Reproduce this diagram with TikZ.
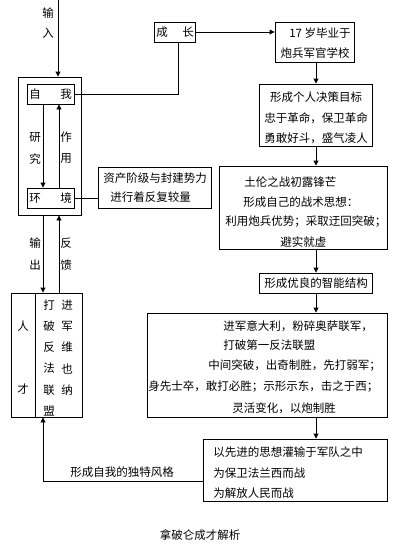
\documentclass[tikz,border=0pt]{standalone}
\usepackage{fontspec}
\newfontfamily\cjk{Noto Sans CJK SC}
\usetikzlibrary{arrows.meta}

\begin{document}
\begin{tikzpicture}[
    x=1pt, y=-1pt,
    every node/.style={font=\cjk\fontsize{11.5}{14}\selectfont, inner sep=0pt},
    box/.style={draw, line width=0.9pt},
    line width=0.9pt,
    >={Triangle[width=5pt,length=5pt]}
]
\useasboundingbox (0,0) rectangle (405,546);

% ===== LEFT COLUMN: self, environment, talent =====
\node[box, minimum width=63pt, minimum height=138pt] (outer) at (49.5,146) {};
\node[box, minimum width=47pt, minimum height=20pt] (ziwo) at (50.5,94) {};
\node (ziwoL) at (35,94) {自};
\node (ziwoR) at (66,94) {我};
\node[box, minimum width=47pt, minimum height=20pt] (huanjing) at (50.5,198) {};
\node (hjL) at (35,198) {环};
\node (hjR) at (66,198) {境};

% --- arrow columns ---
\coordinate (dn) at (43,0);
\coordinate (up) at (59,0);
\coordinate (in) at (58,0);

% --- input ---
\draw[->] (in) -- (in |- outer.north);
\node (inA) at (48,13) {输};
\node (inB) at (48,33) {入};

% --- study / act ---
\draw[->] (dn |- ziwo.south) -- (dn |- huanjing.north);
\draw[->] (up |- huanjing.north) -- (up |- ziwo.south);
\node (yanA) at (35,137) {研};
\node (yanB) at (35,159) {究};
\node (zuoA) at (66,137) {作};
\node (zuoB) at (66,159) {用};

% --- environment note ---
\node[box, minimum width=113pt, minimum height=41pt] (zichan) at (154.5,187.5) {};
\node[anchor=west] (zcA) at (103,178) {资产阶级与封建势力};
\node[anchor=west] (zcB) at (110,197) {进行着反复较量};
\draw (huanjing.east) -- (huanjing.east -| zichan.west);

% --- talent box ---
\node[box, minimum width=71pt, minimum height=124pt] (rencai) at (46.5,355) {};
\draw ([xshift=-11.5pt]rencai.north) -- ([xshift=-11.5pt]rencai.south);
\node (renA) at (23,326) {人};
\node (renB) at (23,389) {才};
\foreach \c [count=\i] in {打,破,反,法,联,盟}
    \node (dp\i) at (49,{305+21.2*(\i-1)}) {\c};
\foreach \c [count=\i] in {进,军,维,也,纳}
    \node (jj\i) at (67,{305+21.2*(\i-1)}) {\c};

% --- output / feedback ---
\draw[->] (dn |- outer.south) -- (dn |- rencai.north);
\draw[->] (up |- rencai.north) -- (up |- outer.south);
\node (scA) at (35,243) {输};
\node (scB) at (35,265) {出};
\node (fkA) at (66,243) {反};
\node (fkB) at (66,265) {馈};


% ===== RIGHT COLUMN: growth chain =====
\coordinate (spine) at (316,0);

\node[box, minimum width=41pt, minimum height=20pt] (chengzhang) at (174.5,32) {};
\node (czL) at (162,32) {成};
\node (czR) at (188,32) {长};
\draw (ziwo.east) -| ([xshift=3.5pt]chengzhang.south);

% --- 17 ---
\node[box, minimum width=79pt, minimum height=40pt] (biye) at (314.5,42) {};
\node (byA) at (320,33) {17 岁毕业于};
\node (byB) at (315,53) {炮兵军官学校};
\draw[->] (chengzhang.east) -- (chengzhang.east -| biye.west);

% --- goals ---
\node[box, minimum width=113pt, minimum height=62pt] (mubiao) at (315.5,115) {};
\node (mbA) at (316,97) {形成个人决策目标};
\node (mbB) at (316,118) {忠于革命，保卫革命};
\node (mbC) at (316,138) {勇敢好斗，盛气凌人};
\draw[->] (spine |- biye.south) -- (spine |- mubiao.north);

% --- Toulon ---
\node[box, minimum width=168pt, minimum height=83pt] (tulun) at (303,207.5) {};
\node[anchor=west] (tlA) at (244,182) {土伦之战初露锋芒};
\node[anchor=west] (tlB) at (243,202) {形成自己的战术思想：};
\node[anchor=west] (tlC) at (225,222) {利用炮兵优势；采取迂回突破；};
\node[anchor=west] (tlD) at (280,242) {避实就虚};
\draw[->] (spine |- mubiao.south) -- (spine |- tulun.north);

% --- structure ---
\node[box, minimum width=113pt, minimum height=20pt] (zhineng) at (315.5,283) {};
\node (znA) at (316,283) {形成优良的智能结构};
\draw[->] (spine |- tulun.south) -- (spine |- zhineng.north);

% --- Italy ---
\node[box, minimum width=240pt, minimum height=104pt] (yidali) at (267,365) {};
\node[anchor=west] (ydA) at (223,326) {进军意大利，粉碎奥萨联军，};
\node[anchor=west] (ydB) at (223,345) {打破第一反法联盟};
\node[anchor=west] (ydC) at (208,366) {中间突破，出奇制胜，先打弱军；};
\node[anchor=west] (ydD) at (148,387) {身先士卒，敢打必胜；示形示东，击之于西；};
\node[anchor=west] (ydE) at (232,408) {灵活变化，以炮制胜};
\draw[->] (spine |- zhineng.south) -- (spine |- yidali.north);

% --- ideas ---
\node[box, minimum width=184pt, minimum height=62pt] (guanshu) at (295,470) {};
\node[anchor=west] (gsA) at (213,452) {以先进的思想灌输于军队之中};
\node[anchor=west] (gsB) at (213,473) {为保卫法兰西而战};
\node[anchor=west] (gsC) at (213,493) {为解放人民而战};
\draw[->] (spine |- yidali.south) -- (spine |- guanshu.north);

% --- back to talent ---
\coordinate (fb) at (203,481);
\draw[->] (fb) -| (dn |- rencai.south);
\node (fengge) at (122,472) {形成自我的独特风格};

% --- caption ---
\node (caption) at (200,535) {拿破仑成才解析};

\end{tikzpicture}
\end{document}
